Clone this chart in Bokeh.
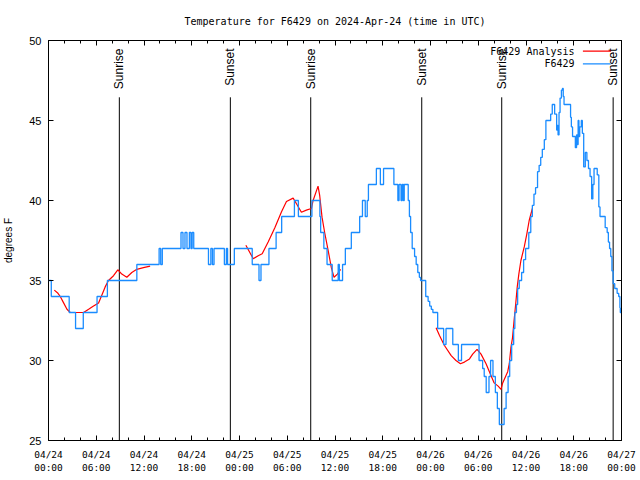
import numpy as np
from bokeh.plotting import figure
from bokeh.models import Range1d, FixedTicker, LinearAxis, ColumnDataSource
from bokeh.core.properties import value
from bokeh.embed import file_html
from bokeh.resources import INLINE

title_text = "Temperature for F6429 on 2024-Apr-24 (time in UTC)"
y_label = "degrees F"
series_names = ["F6429 Analysis", "F6429"]

# time axis: hours since 2024-04-24 00:00 UTC
x_ticks = [0, 6, 12, 18, 24, 30, 36, 42, 48, 54, 60, 66, 72]
x_minor = [h for h in range(0, 73, 2)]
x_tick_labels = ["04/24\n00:00", "04/24\n06:00", "04/24\n12:00", "04/24\n18:00",
                 "04/25\n00:00", "04/25\n06:00", "04/25\n12:00", "04/25\n18:00",
                 "04/26\n00:00", "04/26\n06:00", "04/26\n12:00", "04/26\n18:00",
                 "04/27\n00:00"]
y_ticks = [25, 30, 35, 40, 45, 50]

sunrise_t = [8.9, 32.95, 56.95]
sunset_t = [22.85, 46.9, 70.95]

# observations (F6429), step changes
obs_t = [0.0, 0.35, 2.6, 3.4, 4.37, 6.1, 7.4, 11.1, 13.9, 14.1, 14.3, 16.65, 16.9, 17.15,
         17.4, 17.7, 17.9, 18.05, 18.25, 20.1, 20.4, 20.6, 20.8, 22.1, 22.35, 22.5, 23.35,
         25.6, 26.45, 26.7, 27.7, 28.6, 29.3, 30.9, 31.4, 33.1, 34.1, 34.2, 34.6, 35.0,
         35.65, 36.4, 36.55, 36.95, 37.3, 38.05, 39.1, 39.45, 39.8, 40.05, 40.2, 41.2,
         41.7, 42.1, 43.4, 43.9, 44.05, 44.3, 44.45, 44.6, 44.7, 45.2, 45.35, 45.5, 45.7,
         46.0, 46.2, 46.4, 46.6, 46.75, 47.4, 47.7, 47.9, 48.1, 48.3, 48.9, 49.65, 49.95,
         50.8, 51.5, 51.9, 54.1, 54.55, 54.75, 55.0, 55.35, 55.55, 55.85, 56.15, 56.4,
         56.65, 57.25, 57.5, 57.75, 57.95, 58.2, 58.45, 58.6, 58.8, 58.95, 59.15, 59.45,
         59.7, 59.95, 60.35, 60.6, 60.8, 61.0, 61.2, 61.45, 61.65, 61.85, 62.05, 62.3,
         62.5, 63.1, 63.3, 63.6, 63.85, 63.95, 64.03, 64.15, 64.28, 64.45, 64.58, 64.68,
         64.78, 65.6, 65.7, 65.85, 66.2, 66.35, 66.45, 66.55, 66.65, 66.75, 66.95, 67.08,
         67.25, 67.45, 67.65, 67.85, 68.05, 68.25, 68.4, 68.55, 68.95, 69.15, 69.3, 69.95,
         70.2, 70.35, 70.5, 70.65, 70.8, 70.95, 71.15, 71.45, 71.65, 71.8, 71.85, 71.95]
obs_v = [35, 34, 33, 32, 33, 34, 35, 36, 37, 36, 37, 38, 37, 38,
         37, 38, 37, 38, 37, 36, 37, 36, 37, 36, 37, 36, 37,
         36, 35, 36, 37, 38, 39, 40, 39, 40, 39, 38, 37, 36,
         35, 36, 35, 36, 37, 38, 39, 40, 39, 40, 41, 42,
         41, 42, 41, 40, 41, 40, 41, 40, 41, 40, 39, 38, 37,
         36.5, 36, 35.5, 35.2, 35, 34, 33.7, 33.4, 33.2, 33, 32, 31, 32,
         31, 30, 31, 30, 29.5, 29, 28, 29, 30, 29, 28, 27,
         26, 27, 28, 29, 30, 31, 32, 33, 33.5, 34.5, 35, 35.5,
         36.3, 37, 38, 39, 39.7, 40.4, 40.8, 41.8, 42.2, 42.7, 43.2, 43.8,
         45, 45.4, 46, 45.4, 44.4, 44.7, 44.1, 45.5, 46.4, 46.9, 47, 46.5,
         46, 45.2, 44.6, 44, 43.3, 44.1, 43.5, 45, 44, 44.6, 45, 44.2,
         42.1, 43, 42.5, 42, 41.5, 40.1, 41, 42, 41.6, 39.6, 39, 38.3,
         38, 37.4, 37, 36.5, 35.6, 34.8, 34.5, 34.2, 34, 33.3, 33, 33]

# analysis (F6429 Analysis), three separate runs
anl1_t = [0.73, 1.19, 1.48, 1.9, 2.32, 2.74, 3.78, 4.41, 5.04, 5.66, 6.29, 6.71, 7.12,
          7.54, 8.17, 8.71, 9.21, 9.84, 10.47, 11.1, 11.93, 12.77]
anl1_v = [34.4, 34.2, 34.0, 33.6, 33.2, 33.0, 33.0, 33.0, 33.2, 33.4, 33.6, 34.1, 34.6,
          35.0, 35.3, 35.67, 35.4, 35.2, 35.5, 35.7, 35.8, 35.9]
anl2_t = [24.8, 25.73, 26.35, 26.85, 27.6, 28.44, 29.28, 29.9, 30.74, 31.16, 31.78, 32.4,
          33.04, 33.25, 33.87, 34.08, 34.37, 34.7, 35.13, 35.54, 35.88, 36.3, 36.7]
anl2_v = [37.2, 36.36, 36.55, 36.67, 37.4, 38.3, 39.3, 39.94, 40.15, 39.8, 39.27, 39.4,
          39.5, 40.0, 40.9, 40.3, 38.96, 38.0, 36.9, 35.8, 35.2, 35.4, 35.7]
anl3_t = [48.7, 49.13, 49.75, 50.6, 51.2, 51.76, 52.26, 52.9, 53.3, 53.85, 54.35, 54.98,
          55.4, 56.0, 56.5, 56.86, 57.07, 57.7, 57.9, 58.1, 58.3, 58.5, 58.7, 58.9, 59.1,
          59.36, 59.78, 60.1, 60.4, 60.8]
anl3_v = [32.04, 31.56, 30.94, 30.3, 30.0, 29.8, 29.9, 30.1, 30.4, 30.7, 30.4, 29.8,
          29.3, 28.6, 28.4, 28.2, 28.6, 29.3, 29.8, 30.8, 31.4, 32.5, 33.5, 34.6, 35.4,
          36.25, 37.1, 37.9, 38.75, 39.5]

RED = "#ff0000"
BLUE = "#1a8cff"
MONO = "DejaVu Sans Mono"
SANS = "Liberation Sans"

p = figure(width=640, height=480, output_backend="svg", toolbar_location=None,
           x_range=Range1d(0, 72), y_range=Range1d(25, 50),
           min_border_left=47, min_border_right=19, min_border_top=40, min_border_bottom=40)
p.grid.visible = False
p.outline_line_color = "black"
p.outline_line_alpha = 1.0
p.outline_line_width = 1
p.background_fill_color = "white"
p.border_fill_color = "white"

xt = FixedTicker(ticks=x_ticks, minor_ticks=x_minor)
yt = FixedTicker(ticks=y_ticks, minor_ticks=[])

def style_axis(ax):
    ax.axis_line_color = None
    ax.major_tick_in = 5
    ax.major_tick_out = 0
    ax.minor_tick_in = 3
    ax.minor_tick_out = 0
    ax.major_tick_line_color = "black"
    ax.minor_tick_line_color = "black"

xa = p.xaxis[0]
xa.ticker = xt
style_axis(xa)
xa.major_label_overrides = {t: lab for t, lab in zip(x_ticks, x_tick_labels)}
xa.major_label_text_font = MONO
xa.major_label_text_font_size = "9.5px"
xa.major_label_text_line_height = 1.25
xa.major_label_text_color = "black"
xa.major_label_standoff = 8

ya = p.yaxis[0]
ya.ticker = yt
style_axis(ya)
ya.minor_tick_line_color = None
ya.major_label_text_font = SANS
ya.major_label_text_font_size = "11px"
ya.major_label_text_color = "black"
ya.major_label_standoff = 7
ya.axis_label = y_label
ya.axis_label_text_font = SANS
ya.axis_label_text_font_size = "10px"
ya.axis_label_text_font_style = "normal"
ya.axis_label_text_color = "black"
ya.axis_label_standoff = 12

# top mirror axis carries the chart title
top = LinearAxis(ticker=xt, major_label_text_alpha=0, major_label_text_font_size="1px",
                 major_label_standoff=0)
style_axis(top)
top.major_label_overrides = {t: "" for t in x_ticks}
top.axis_label = title_text
top.axis_label_text_font = MONO
top.axis_label_text_font_size = "10px"
top.axis_label_text_font_style = "normal"
top.axis_label_text_color = "black"
top.axis_label_standoff = 14
p.add_layout(top, "above")
right = LinearAxis(ticker=yt, major_label_text_alpha=0, major_label_text_font_size="1px",
                   major_label_standoff=0)
style_axis(right)
right.minor_tick_line_color = None
right.major_label_overrides = {t: "" for t in y_ticks}
p.add_layout(right, "right")

# sunrise / sunset markers
ev_t = sunrise_t + sunset_t
ev_lab = ["Sunrise"] * len(sunrise_t) + ["Sunset"] * len(sunset_t)
ev = ColumnDataSource(dict(x=ev_t, y0=[25] * len(ev_t), y1=[46.45] * len(ev_t),
                           ly=[49.5] * len(ev_t), lab=ev_lab))
p.segment(x0="x", y0="y0", x1="x", y1="y1", source=ev, line_color="black", line_width=1)
p.text(x="x", y="ly", text="lab", source=ev, angle=np.pi / 2, text_align="right",
       text_baseline="middle", text_font=value(SANS), text_font_size="12px",
       text_color="black")

# series
p.multi_line(xs=[anl1_t, anl2_t, anl3_t], ys=[anl1_v, anl2_v, anl3_v],
             line_color=RED, line_width=1.2)
p.step(x=obs_t, y=obs_v, mode="after", line_color=BLUE, line_width=1.3)

# key (top-right, text then sample line)
key_y = [49.33, 48.54]
p.text(x=[66.1, 66.1], y=key_y, text=series_names, text_align="right",
       text_baseline="middle", text_font=value(MONO), text_font_size="10px",
       text_color="black")
p.segment(x0=[67.15, 67.15], y0=key_y, x1=[70.65, 70.65], y1=key_y,
          line_color=[RED, BLUE], line_width=1.2)

open("out.html", "w").write(file_html(p, INLINE))
